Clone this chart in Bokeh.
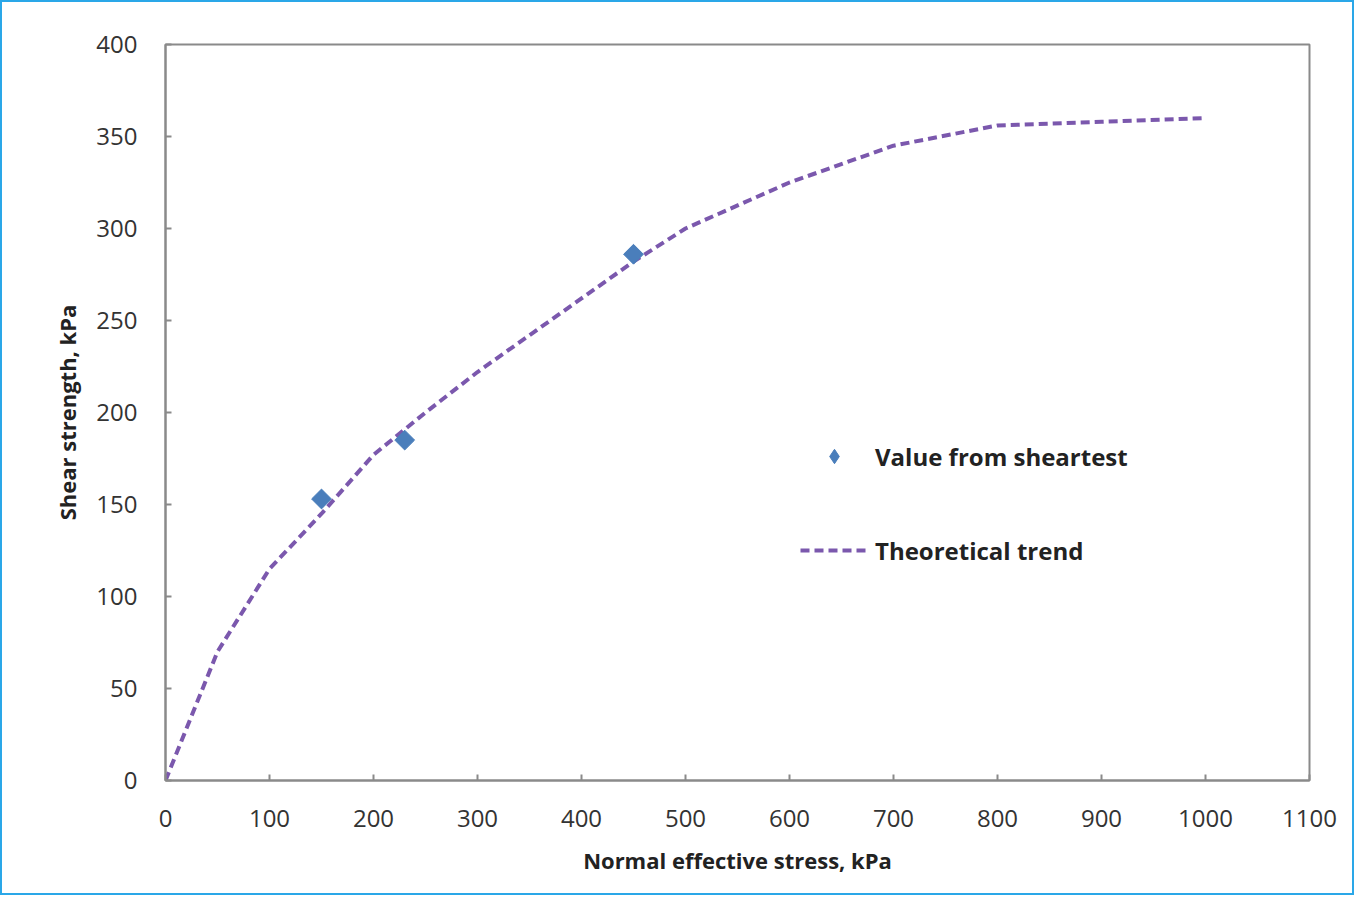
import math
from bokeh.plotting import figure
from bokeh.models import Range1d, FixedTicker, Legend, LegendItem
from bokeh.embed import file_html
from bokeh.resources import INLINE

# Measured data
test_x = [150, 230, 450]
test_y = [153, 185, 286]

trend_x = [0, 50, 100, 150, 200, 250, 300, 400, 450, 500, 600, 700, 800, 900, 1000]
trend_y = [0, 70, 115, 145, 177, 200, 222, 262, 282, 300, 325, 345, 356, 358, 360]

x_ticks = [0, 100, 200, 300, 400, 500, 600, 700, 800, 900, 1000, 1100]
y_ticks = [0, 50, 100, 150, 200, 250, 300, 350, 400]

FONT = "Open Sans"

p = figure(width=1354, height=895, output_backend="svg", toolbar_location=None,
           x_range=Range1d(0, 1100), y_range=Range1d(0, 400),
           min_border_left=163, min_border_right=47, min_border_top=42, min_border_bottom=117)
p.styles = {"border": "2px solid #2aa7e8"}
p.background_fill_color = "white"
p.border_fill_color = "white"
p.grid.visible = False
p.outline_line_color = "#8a8a8a"
p.outline_line_width = 2

for ax in (p.xaxis[0], p.yaxis[0]):
    ax.axis_line_color = "#8a8a8a"
    ax.axis_line_width = 2
    ax.major_tick_line_color = "#8a8a8a"
    ax.major_tick_line_width = 2
    ax.major_tick_in = 6
    ax.major_tick_out = 0
    ax.minor_tick_line_color = None
    ax.major_label_text_font = FONT
    ax.major_label_text_font_size = "24px"
    ax.major_label_text_color = "#333333"
    ax.axis_label_text_font = FONT
    ax.axis_label_text_font_size = "22px"
    ax.axis_label_text_font_style = "bold"
    ax.axis_label_text_color = "#222222"

p.xaxis.ticker = FixedTicker(ticks=x_ticks)
p.yaxis.ticker = FixedTicker(ticks=y_ticks)
p.xaxis.major_label_standoff = 29
p.yaxis.major_label_standoff = 28
p.xaxis.axis_label = "Normal effective stress, kPa"
p.yaxis.axis_label = "Shear strength, kPa"
p.xaxis.axis_label_standoff = 15
p.yaxis.axis_label_standoff = 11

r_line = p.line(trend_x, trend_y, line_color="#7b58ad", line_width=4, line_dash="9 5")
r_pts = p.scatter(test_x, test_y, marker="square", size=14, angle=math.pi / 4,
                  fill_color="#4a7ebb", line_color="#4a7ebb")
# legend-only key marker (a NaN point, nothing is drawn on the plot), shown as a diamond
r_key = p.scatter(x=[float("nan")], y=[float("nan")], marker="diamond", size=16,
                  fill_color="#4a7ebb", line_color="#4a7ebb")

legend = Legend(items=[LegendItem(label="Value from sheartest", renderers=[r_key]),
                       LegendItem(label="Theoretical trend", renderers=[r_line])],
                location=(635, 212), orientation="vertical")
legend.glyph_width = 68
legend.glyph_height = 36
legend.label_height = 20
legend.spacing = 58
legend.padding = 0
legend.margin = 0
legend.label_standoff = 7
legend.border_line_color = None
legend.background_fill_alpha = 0
legend.label_text_font = FONT
legend.label_text_font_size = "24px"
legend.label_text_font_style = "bold"
legend.label_text_color = "#222222"
p.add_layout(legend, "center")

open("out.html", "w").write(file_html(p, INLINE))
